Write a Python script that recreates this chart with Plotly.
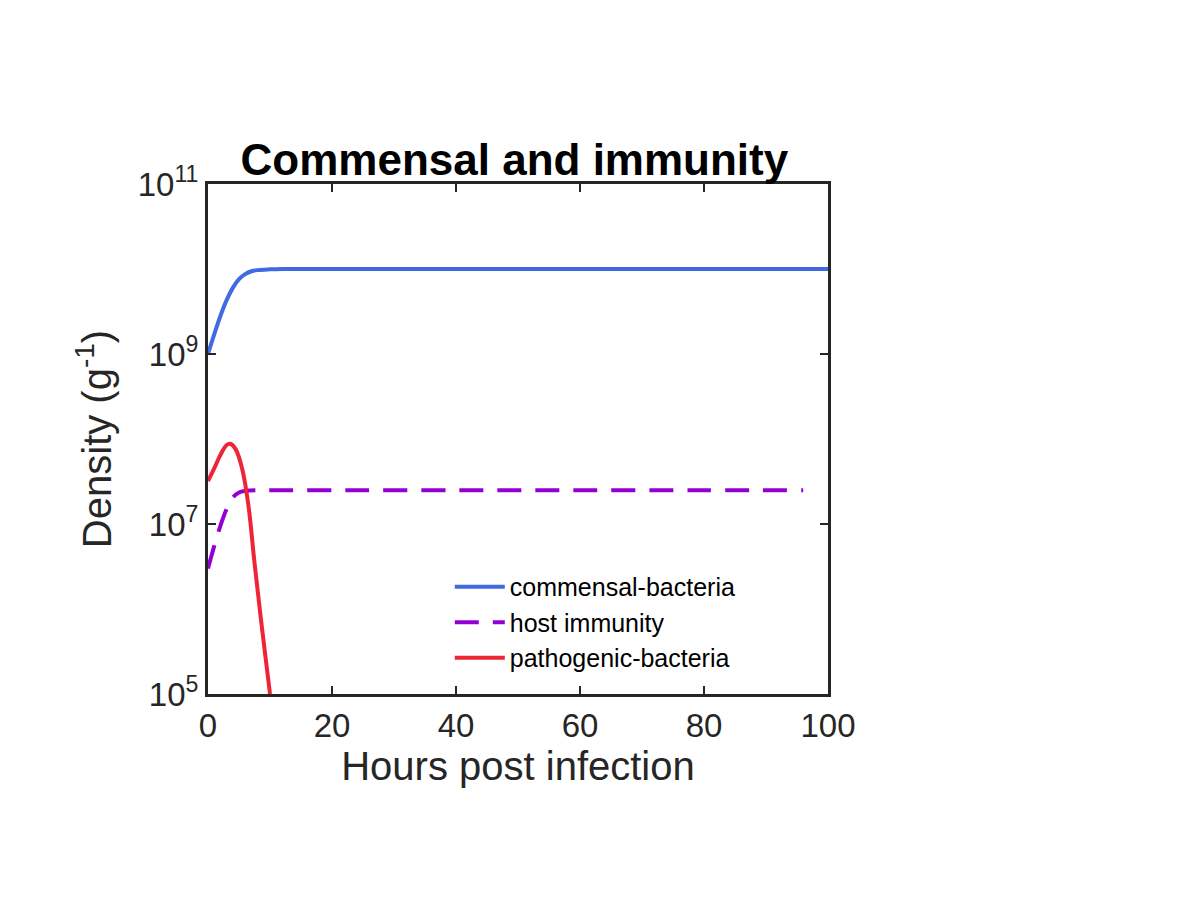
import plotly.graph_objects as go

# hours post infection
t_comm = [0, 1, 2, 3, 4, 5, 6, 7, 8, 10, 12, 15, 20, 30, 50, 70, 100]
comm = [1e9, 1.7e9, 2.8e9, 4.3e9, 6.0e9, 7.6e9, 8.7e9, 9.4e9, 9.7e9, 9.9e9, 1e10, 1e10, 1e10, 1e10, 1e10, 1e10, 1e10]

t_imm = [0, 1, 2, 3, 4, 5, 6, 8, 10, 20, 40, 60, 80, 96]
imm = [3e6, 5.5e6, 9.5e6, 1.5e7, 2.05e7, 2.35e7, 2.45e7, 2.5e7, 2.5e7, 2.5e7, 2.5e7, 2.5e7, 2.5e7, 2.5e7]

t_path = [0, 1, 2, 3, 3.6, 4.5, 5.5, 6.5, 7.5, 8.5, 9.5, 10.0]
path = [3.2e7, 4.5e7, 6.5e7, 8.5e7, 8.8e7, 7.5e7, 4.5e7, 1.7e7, 3.5e6, 8e5, 2e5, 1e5]

fig = go.Figure()
fig.add_trace(go.Scatter(x=t_comm, y=comm, mode="lines", name="commensal-bacteria",
                         line=dict(color="#4169E1", width=4, shape="spline")))
fig.add_trace(go.Scatter(x=t_imm, y=imm, mode="lines", name="host immunity",
                         line=dict(color="#9400D3", width=4, dash="24px,14px", shape="spline")))
fig.add_trace(go.Scatter(x=t_path, y=path, mode="lines", name="pathogenic-bacteria",
                         line=dict(color="#EE2536", width=4, shape="spline")))

fig.update_layout(
    width=1200, height=900,
    paper_bgcolor="white", plot_bgcolor="white",
    margin=dict(l=200, r=380, t=176, b=214),
    font=dict(family="Liberation Sans, Arial", size=33, color="#262626"),
    title=dict(text="<b>Commensal and immunity</b>", x=0.422, xanchor="center",
               y=0.815, yanchor="bottom", font=dict(size=44, color="black")),
    showlegend=True,
    legend=dict(x=0.39, y=0.255, xanchor="left", yanchor="top",
                bgcolor="rgba(0,0,0,0)", font=dict(size=25, color="black"),
                tracegroupgap=0, itemwidth=50),
)
fig.update_xaxes(range=[0, 100], tickvals=[0, 20, 40, 60, 80, 100],
                 ticks="inside", ticklen=8, tickwidth=2, tickcolor="#262626",
                 showline=True, linewidth=3, linecolor="#262626", mirror="ticks",
                 showgrid=False, zeroline=False,
                 title=dict(text="Hours post infection", standoff=10))
fig.update_yaxes(type="log", range=[5, 11],
                 tickvals=[1e5, 1e7, 1e9, 1e11],
                 ticktext=["10<sup>5</sup>", "10<sup>7</sup>", "10<sup>9</sup>", "10<sup>11</sup>"],
                 ticks="inside", ticklen=8, tickwidth=2, tickcolor="#262626",
                 showline=True, linewidth=3, linecolor="#262626", mirror="ticks",
                 showgrid=False, zeroline=False,
                 title=dict(text="Density (g<sup>-1</sup>)", standoff=14))

fig.write_html("out.html")
